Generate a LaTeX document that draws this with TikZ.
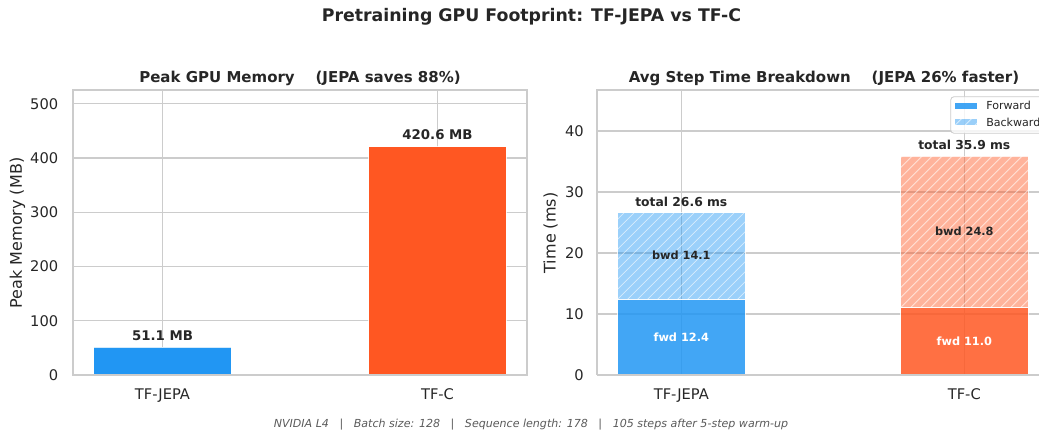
\documentclass[tikz,border=0pt]{standalone}
\usepackage{fontspec}
\setmainfont{DejaVu Sans}
\definecolor{txt}{HTML}{262626}
\definecolor{gridc}{HTML}{CCCCCC}
\definecolor{mblue}{HTML}{2196F3}
\definecolor{morange}{HTML}{FF5722}
\definecolor{foot}{HTML}{5A5A5A}
\begin{document}
\begin{tikzpicture}[x=0.75pt,y=0.75pt,
  gridline/.style={gridc, line width=0.8pt},
  axframe/.style={gridc, line width=1.25pt},
  ticklab/.style={inner sep=0pt, text=txt, font=\fontsize{11}{13}\selectfont},
  axlab/.style={inner sep=0pt, text=txt, font=\fontsize{12}{14}\selectfont, rotate=90},
  subtitle/.style={inner sep=0pt, text=txt, font=\fontsize{11.25}{13}\selectfont\bfseries},
  barlab/.style={inner sep=0pt, text=txt, font=\fontsize{10}{12}\selectfont\bfseries},
  totlab/.style={inner sep=0pt, text=txt, font=\fontsize{9.25}{11}\selectfont\bfseries},
  inlab/.style={inner sep=0pt, font=\fontsize{8.5}{10}\selectfont\bfseries},
  leglab/.style={inner sep=0pt, anchor=west, text=txt, font=\fontsize{8.3}{10}\selectfont},
  baredge/.style={draw=white, line width=0.6pt, draw opacity=0.8},
  hatchline/.style={white, line width=0.6pt, opacity=0.6}]
\useasboundingbox (0,0) rectangle (1039,432);
\clip (0,0) rectangle (1039,432);

% ---------- main title ----------
\node[inner sep=0pt, text=txt, font=\fontsize{13}{15}\selectfont\bfseries] (title) at (531.5,415) {Pretraining GPU Footprint: TF-JEPA vs TF-C};

% ---------- left panel ----------
\foreach \v in {0,100,...,500}{
  \draw[gridline] (73.1,57+\v*0.5425) -- (526.9,57+\v*0.5425);
  \node[ticklab, anchor=east] (ly\v) at (58.5,57+\v*0.5425) {\v};
}
\draw[gridline] (162.5,57) -- (162.5,342.2);
\draw[gridline] (437.5,57) -- (437.5,342.2);
\fill[mblue] (93.75,57) rectangle (231.25,57+51.1*0.5425);
\draw[baredge] (93.75,57) rectangle (231.25,57+51.1*0.5425);
\fill[morange] (368.75,57) rectangle (506.25,57+420.6*0.5425);
\draw[baredge] (368.75,57) rectangle (506.25,57+420.6*0.5425);
\draw[axframe] (73.1,57) rectangle (526.9,342.2);
\node[barlab] (lb1) at (162.5,96) {51.1 MB};
\node[barlab] (lb2) at (437.5,297) {420.6 MB};
\node[ticklab, anchor=base] (lx1) at (162.5,32.5) {TF-JEPA};
\node[ticklab, anchor=base] (lx2) at (437.5,32.5) {TF-C};
\node[axlab] (lyl) at (17.5,199) {Peak Memory (MB)};
\node[subtitle] (lt) at (300,354) {Peak GPU Memory\ \ \ \ (JEPA saves 88\%)};

% ---------- right panel ----------
\foreach \v in {0,10,...,40}{
  \draw[gridline] (597.1,57+\v*6.1) -- (1060,57+\v*6.1);
  \node[ticklab, anchor=east] (ry\v) at (584,57+\v*6.1) {\v};
}
\draw[gridline] (681.3,57) -- (681.3,341.7);
\draw[gridline] (964.3,57) -- (964.3,341.7);
% TF-JEPA stacked
\fill[mblue, fill opacity=0.85] (617.7,57) rectangle (745,57+12.43*6.1);
\fill[mblue, fill opacity=0.45] (617.7,57+12.43*6.1) rectangle (745,57+26.6*6.1);
\begin{scope}
  \clip (617.7,57+12.43*6.1) rectangle (745,57+26.6*6.1);
  \foreach \k in {-20,...,15}{
    \draw[hatchline] (617.7+\k*10,57+12.43*6.1) -- ++(200,200);
  }
\end{scope}
\draw[baredge] (617.7,57) rectangle (745,57+12.43*6.1);
\draw[baredge] (617.7,57+12.43*6.1) rectangle (745,57+26.6*6.1);
% TF-C stacked
\fill[morange, fill opacity=0.85] (900.7,57) rectangle (1028,57+11.05*6.1);
\fill[morange, fill opacity=0.45] (900.7,57+11.05*6.1) rectangle (1028,57+35.9*6.1);
\begin{scope}
  \clip (900.7,57+11.05*6.1) rectangle (1028,57+35.9*6.1);
  \foreach \k in {-20,...,15}{
    \draw[hatchline] (900.7+\k*10,57+11.05*6.1) -- ++(200,200);
  }
\end{scope}
\draw[baredge] (900.7,57) rectangle (1028,57+11.05*6.1);
\draw[baredge] (900.7,57+11.05*6.1) rectangle (1028,57+35.9*6.1);
\draw[axframe] (597.1,57) -- (597.1,341.7) -- (1060,341.7);
\draw[axframe] (597.1,57) -- (1060,57);
\node[inlab, text=white] (f1) at (681.3,95) {fwd 12.4};
\node[inlab, text=txt] (b1) at (681.3,176.3) {bwd 14.1};
\node[inlab, text=white] (f2) at (964.3,90.7) {fwd 11.0};
\node[inlab, text=txt] (b2) at (964.3,200.3) {bwd 24.8};
\node[totlab] (t1) at (681.3,230.5) {total 26.6 ms};
\node[totlab] (t2) at (964.3,287) {total 35.9 ms};
\node[ticklab, anchor=base] (rx1) at (681.3,32.5) {TF-JEPA};
\node[ticklab, anchor=base] (rx2) at (964.3,32.5) {TF-C};
\node[axlab] (ryl) at (550.5,199) {Time (ms)};
\node[subtitle] (rt) at (824,354) {Avg Step Time Breakdown\ \ \ \ (JEPA 26\% faster)};

% ---------- legend ----------
\draw[gridc, line width=0.6pt, fill=white, fill opacity=0.8, rounded corners=2.5pt] (950.7,298.7) rectangle (1070,335.3);
\fill[mblue, fill opacity=0.85] (955,323.3) rectangle (977.3,329.3);
\fill[mblue, fill opacity=0.45] (955,306.7) rectangle (977.3,312.7);
\begin{scope}
  \clip (955,306.7) rectangle (977.3,312.7);
  \foreach \k in {-2,...,3}{
    \draw[hatchline] (955+\k*10,306.7) -- ++(20,20);
  }
\end{scope}
\node[leglab] (lgf) at (986,326.3) {Forward};
\node[leglab] (lgb) at (986,309.7) {Backward};

% ---------- footer ----------
\node[inner sep=0pt, text=foot, font=\fontsize{8.3}{10}\selectfont\itshape] (foot) at (531,7.5) {NVIDIA L4\ \ \ |\ \ \ Batch size: 128\ \ \ |\ \ \ Sequence length: 178\ \ \ |\ \ \ 105 steps after 5-step warm-up};
\end{tikzpicture}
\end{document}
